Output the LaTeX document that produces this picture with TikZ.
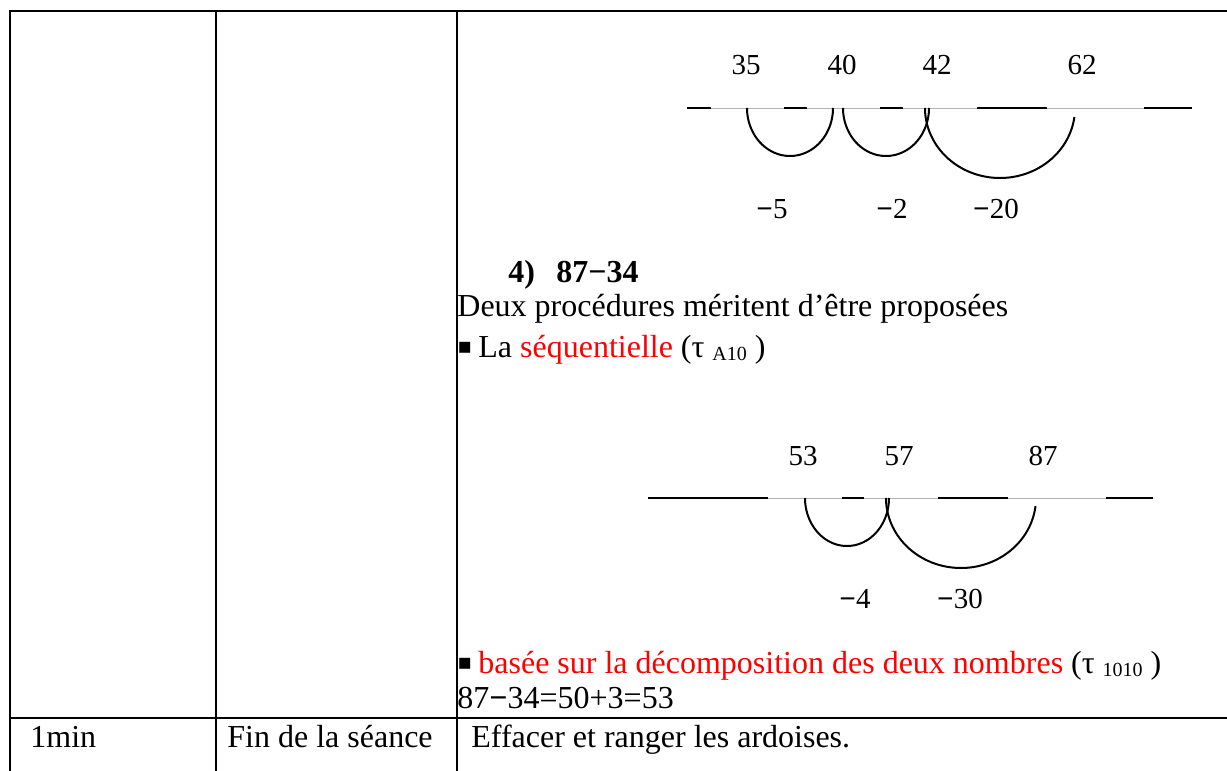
\documentclass[tikz,border=0pt]{standalone}
\usepackage{fontspec}
\setmainfont{Liberation Serif}
\newfontfamily\dejavu{DejaVu Sans}
\newcommand\mysub[1]{\raisebox{-1.5pt}{\fontsize{10}{12}\selectfont #1}}
\newcommand\mybullet{\raisebox{1.6pt}{\dejavu\fontsize{11}{11}\selectfont ▪}}
\newcommand\mymin{\textbf{−}}
\begin{document}
\begin{tikzpicture}[x=0.5pt,y=-0.5pt,
  tablerule/.style={line width=1.4pt},
  txt/.style={anchor=base west, inner sep=0pt, font=\fontsize{16}{19}\selectfont},
  bold/.style={txt, font=\fontsize{16}{19}\selectfont\bfseries},
  num/.style={anchor=base, inner sep=0pt, font=\fontsize{14.5}{17}\selectfont},
  axisline/.style={gray!60, line width=0.5pt},
  seg/.style={line width=1pt},
  jump/.style={line width=1pt}]
\useasboundingbox (0,0) rectangle (1227,771);

% table rules
\draw[tablerule] (10,771) -- (10,11) -- (1227,11);
\draw[tablerule] (216,11) -- (216,771);
\draw[tablerule] (457,11) -- (457,771);
\draw[tablerule] (10,718) -- (1227,718);

% first number line
\draw[axisline] (687,108) -- (1192,108);
\draw[seg] (687,108) -- (711,108);
\draw[seg] (784,108) -- (807,108);
\draw[seg] (880,108) -- (903,108);
\draw[seg] (977,108) -- (1047,108);
\draw[seg] (1144,108) -- (1192,108);
\node[num] (n35) at (746,75) {35};
\node[num] (n40) at (842,75) {40};
\node[num] (n42) at (937,75) {42};
\node[num] (n62) at (1082,75) {62};
\draw[jump] plot[domain=0:180, samples=60, smooth] ({790-43*cos(\x)},{108+48*sin(\x)});
\draw[jump] plot[domain=0:180, samples=60, smooth] ({886-43*cos(\x)},{108+48*sin(\x)});
\draw[jump] plot[domain=0:172.6, samples=80, smooth] ({1000-75*cos(\x)},{108+70*sin(\x)});
\node[num] (m5) at (772,218) {\mymin 5};
\node[num] (m2) at (892,218) {\mymin 2};
\node[num] (m20) at (996,218) {\mymin 20};

% item 4
\node[bold] (q4) at (508,282) {4)};
\node[bold] (q4b) at (556,282) {87−34};
\node[txt] (deux) at (457,316) {Deux procédures méritent d’être proposées};
\node[txt] (b1) at (457,357) {\mybullet};
\node[txt] (seq) at (478,357) {La \textcolor{red}{séquentielle} (τ \mysub{A10} )};

% second number line
\draw[axisline] (648,498) -- (1153,498);
\draw[seg] (648,498) -- (768,498);
\draw[seg] (842,498) -- (864,498);
\draw[seg] (938,498) -- (1008,498);
\draw[seg] (1106,498) -- (1153,498);
\node[num] (n53) at (803,465) {53};
\node[num] (n57) at (899,465) {57};
\node[num] (n87) at (1043,465) {87};
\draw[jump] plot[domain=0:180, samples=60, smooth] ({847-42*cos(\x)},{498+48*sin(\x)});
\draw[jump] plot[domain=0:173.4, samples=80, smooth] ({961-75*cos(\x)},{498+70*sin(\x)});
\node[num] (m4) at (855,608) {\mymin 4};
\node[num] (m30) at (960,608) {\mymin 30};

% decomposition
\node[txt] (b2) at (457,673) {\mybullet};
\node[txt] (dec) at (478,673) {\textcolor{red}{basée sur la décomposition des deux nombres} (τ \mysub{1010} )};
\node[txt] (calc) at (457,708) {87\mymin 34=50+3=53};

% last row
\node[txt] (t1) at (30,747) {1min};
\node[txt] (t2) at (227,747) {Fin de la séance};
\node[txt] (t3) at (471,747) {Effacer et ranger les ardoises.};
\end{tikzpicture}
\end{document}
